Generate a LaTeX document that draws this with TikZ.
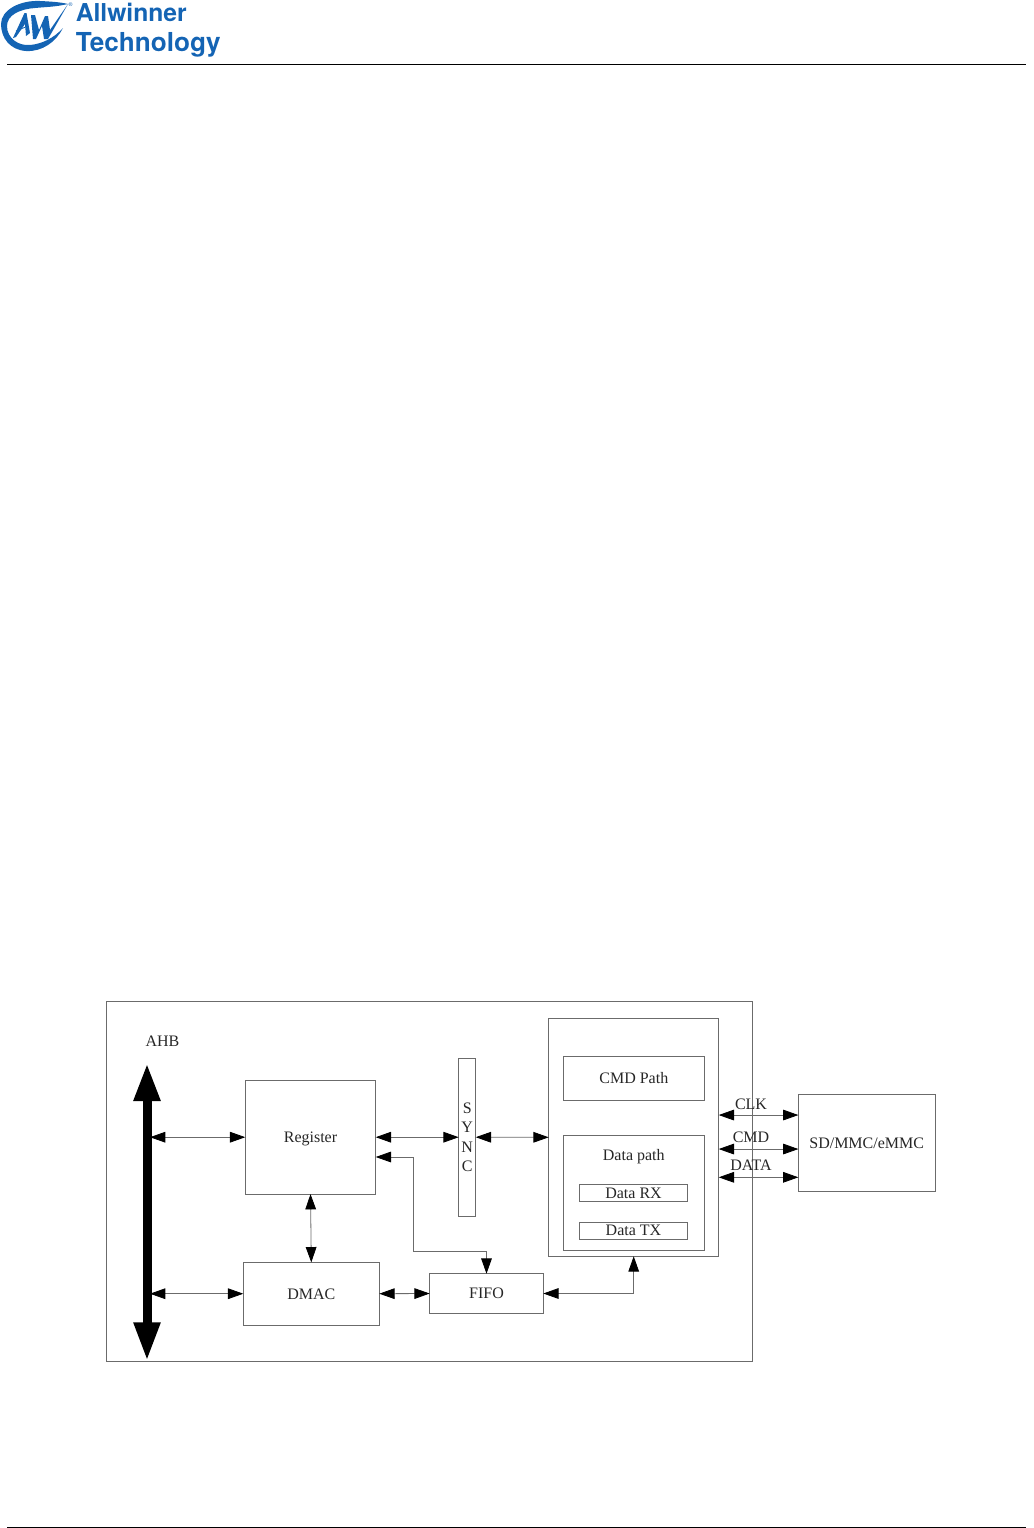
\documentclass[tikz,border=0pt]{standalone}
\usepackage{fontspec}
\setmainfont{Liberation Serif}
\newfontfamily\logofont{TeX Gyre Heros}
\usepackage{tikz}
\usetikzlibrary{arrows.meta, positioning, calc}
\definecolor{awblue}{RGB}{20,100,180}
\colorlet{cLine}{black!58}
\tikzset{
  blockbox/.style={draw=cLine, line width=0.6pt, fill=none, inner sep=0pt, outer sep=0pt,
    font=\fontsize{12}{14.5}\selectfont, text=black!85, align=center, text depth=0pt},
  biarrow/.style={draw=cLine, line width=0.6pt,
    {Triangle[length=11.5pt,width=8pt,black]}-{Triangle[length=11.5pt,width=8pt,black]}},
  linklabel/.style={font=\fontsize{12}{14.5}\selectfont, text=black!85, inner sep=0pt, text depth=0pt},
  rulerline/.style={black, line width=0.75pt}
}

\begin{document}
\begin{tikzpicture}[x=0.75pt, y=-0.75pt]
    \useasboundingbox (0,0) rectangle (1034,1528);
    % header and footer
    \draw[rulerline] (7,64.5) -- (1026,64.5);
    \draw[rulerline] (7,1527) -- (1026,1527);
    \begin{scope}[awblue]
      \fill (1,24) .. controls (1,10) and (20,0) .. (40,1) .. controls (50,1.5) and (60,2) .. (68,4)
        .. controls (55,7) and (45,7) .. (35,8) .. controls (20,9) and (7,15) .. (7,26)
        .. controls (7,38) and (18,46) .. (30,45) .. controls (42,44) and (54,38) .. (63,28)
        .. controls (56,42) and (42,52) .. (26,51) .. controls (10,50) and (1,38) .. (1,24) -- cycle;
      \fill (13,38) -- (24.5,13) -- (26.5,13) -- (30,33) -- (26,36) -- (25,24) -- (16,37) -- cycle;
      \draw[line width=0.6pt] (16,31) -- (28,26);
      \fill (31,15) -- (35,15) -- (39,30) -- (45,16) -- (48,16) -- (50,30) -- (68,4) -- (48,39) -- (44,39)
        -- (42,26) -- (36,39) -- (33,39) -- cycle;
      \node[font=\logofont\fontsize{4}{4}\selectfont, inner sep=0pt] (regmark) at (70.5,5) {®};
      \node[font=\logofont\bfseries\fontsize{18.5}{19}\selectfont, anchor=base west, inner sep=0pt] (logotop) at (75.5,21) {Allwinner};
      \node[font=\logofont\bfseries\fontsize{19.6}{20}\selectfont, anchor=base west, inner sep=0pt] (logobot) at (75.5,51) {Technology};
    \end{scope}

    \node[blockbox, minimum width=484.7pt, minimum height=270.2pt] (hostbox) at (429.6,1181.6) {};
    \node[blockbox, minimum width=97.8pt, minimum height=85.3pt] (register) at (310.5,1137.2) {Register};
    \node[blockbox, minimum width=102pt, minimum height=47pt] (dmac) at (311.3,1293.7) {DMAC};
    \node[blockbox, minimum width=85.2pt, minimum height=29.7pt] (fifo) at (486.5,1293.5) {FIFO};
    \node[blockbox, minimum width=12.75pt, minimum height=118.7pt] (sync) at (467.2,1137.2) {S\\Y\\N\\C};
    \node[blockbox, minimum width=127.5pt, minimum height=178.5pt] (pathbox) at (633.7,1137.3) {};
    \node[blockbox, minimum width=106.3pt, minimum height=33.2pt] (cmdpath) at (633.8,1078.2) {CMD Path};
    \node[blockbox, minimum width=106.3pt, minimum height=86.8pt] (datapath) at (633.8,1192.9) {};
    \node[linklabel] (datalabel) at (633.8,1155) {Data path};
    \node[blockbox, minimum width=81.3pt, minimum height=12.75pt] (datarx) at (633.5,1192.8) {Data RX};
    \node[blockbox, minimum width=81.3pt, minimum height=13pt] (datatx) at (633.5,1230.6) {Data TX};
    \node[blockbox, minimum width=102.5pt, minimum height=73pt] (sdcard) at (866.7,1143) {SD/MMC/eMMC};

    % AHB bus
    \node[linklabel] (ahblabel) at (162.5,1041.5) {AHB};
    \coordinate (ahbtop) at (147,1063);
    \coordinate (ahbbot) at (147,1361);
    \draw[line width=6.75pt, {Triangle[length=28.5pt,width=18.5pt]}-{Triangle[length=29pt,width=18.5pt]}] (ahbtop) -- (ahbbot);
    \coordinate (ahbreg) at (150,1137.2);
    \coordinate (ahbdmac) at (150,1293.7);
    \draw[biarrow] (ahbreg) -- (register.west);
    \draw[biarrow] (ahbdmac) -- (dmac.west);

    \draw[biarrow] (register.east) -- (sync.west);
    \draw[biarrow] (sync.east) -- (pathbox.west);
    \draw[biarrow] (register.south) -- (dmac.north);
    \draw[biarrow] (dmac.east) -- (fifo.west);
    \coordinate (fifoturn) at (413.3,1251.7);
    \draw[biarrow] ([yshift=-14.85pt]register.east) -| (fifoturn) -| (fifo.north);
    \draw[biarrow] (fifo.east) -| (pathbox.south);

    % card lines
    \draw[biarrow] ([yshift=16.7pt]pathbox.east) -- ([yshift=16.7pt]pathbox.east -| sdcard.west);
    \draw[biarrow] ([yshift=-8.8pt]pathbox.east) -- ([yshift=-8.8pt]pathbox.east -| sdcard.west);
    \draw[biarrow] ([yshift=-30pt]pathbox.east) -- ([yshift=-30pt]pathbox.east -| sdcard.west);
    \node[linklabel] (clklabel) at (751,1104) {CLK};
    \node[linklabel] (cmdlabel) at (751,1137) {CMD};
    \node[linklabel] (datasig) at (751,1165) {DATA};
\end{tikzpicture}
\end{document}
